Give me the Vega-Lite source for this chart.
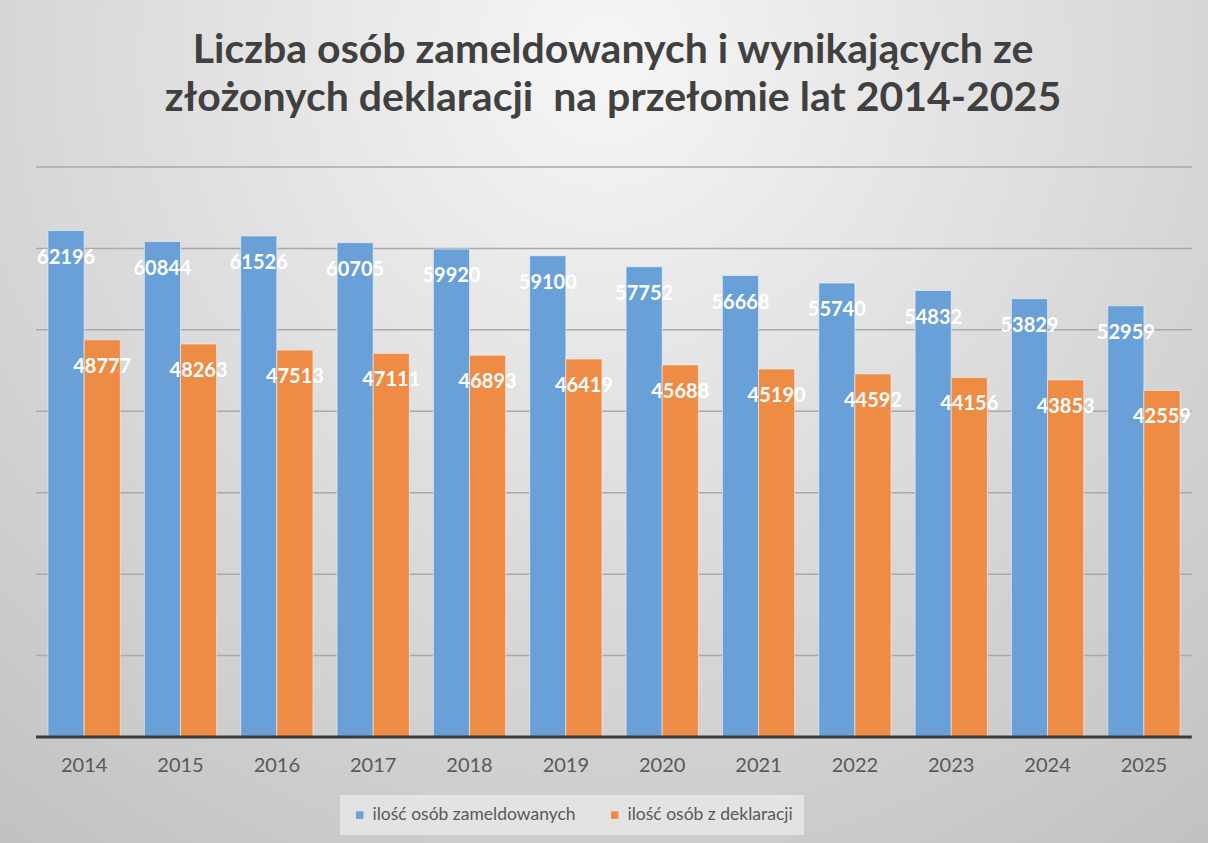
{
  "$schema": "https://vega.github.io/schema/vega-lite/v6.json",
  "width": 1208,
  "height": 843,
  "autosize": {"type": "none"},
  "padding": 0,
  "background": "#d6d6d6",
  "view": {
    "stroke": null,
    "fill": {
      "gradient": "radial",
      "x1": 0.5, "y1": 0.2, "r1": 0,
      "x2": 0.5, "y2": 0.2, "r2": 0.9,
      "stops": [
        {"offset": 0, "color": "#f6f6f6"},
        {"offset": 1, "color": "#bcbcbc"}
      ]
    }
  },
  "title": {
    "text": ["Liczba osób zameldowanych i wynikających ze", "złożonych deklaracji \u00a0na przełomie lat 2014-2025"],
    "fontSize": 41,
    "font": "Lato",
    "fontWeight": "bold",
    "color": "#404040",
    "anchor": "middle",
    "orient": "top",
    "offset": -120,
    "dx": 9,
    "lineHeight": 48
  },
  "datasets": {
    "slupki": [
      {"rok": "2014", "seria": "ilość osób zameldowanych", "wartosc": 62196},
      {"rok": "2015", "seria": "ilość osób zameldowanych", "wartosc": 60844},
      {"rok": "2016", "seria": "ilość osób zameldowanych", "wartosc": 61526},
      {"rok": "2017", "seria": "ilość osób zameldowanych", "wartosc": 60705},
      {"rok": "2018", "seria": "ilość osób zameldowanych", "wartosc": 59920},
      {"rok": "2019", "seria": "ilość osób zameldowanych", "wartosc": 59100},
      {"rok": "2020", "seria": "ilość osób zameldowanych", "wartosc": 57752},
      {"rok": "2021", "seria": "ilość osób zameldowanych", "wartosc": 56668},
      {"rok": "2022", "seria": "ilość osób zameldowanych", "wartosc": 55740},
      {"rok": "2023", "seria": "ilość osób zameldowanych", "wartosc": 54832},
      {"rok": "2024", "seria": "ilość osób zameldowanych", "wartosc": 53829},
      {"rok": "2025", "seria": "ilość osób zameldowanych", "wartosc": 52959},
      {"rok": "2014", "seria": "ilość osób z deklaracji", "wartosc": 48777},
      {"rok": "2015", "seria": "ilość osób z deklaracji", "wartosc": 48263},
      {"rok": "2016", "seria": "ilość osób z deklaracji", "wartosc": 47513},
      {"rok": "2017", "seria": "ilość osób z deklaracji", "wartosc": 47111},
      {"rok": "2018", "seria": "ilość osób z deklaracji", "wartosc": 46893},
      {"rok": "2019", "seria": "ilość osób z deklaracji", "wartosc": 46419},
      {"rok": "2020", "seria": "ilość osób z deklaracji", "wartosc": 45688},
      {"rok": "2021", "seria": "ilość osób z deklaracji", "wartosc": 45190},
      {"rok": "2022", "seria": "ilość osób z deklaracji", "wartosc": 44592},
      {"rok": "2023", "seria": "ilość osób z deklaracji", "wartosc": 44156},
      {"rok": "2024", "seria": "ilość osób z deklaracji", "wartosc": 43853},
      {"rok": "2025", "seria": "ilość osób z deklaracji", "wartosc": 42559}
    ],
    "siatka": [
      {"g": 10000}, {"g": 20000}, {"g": 30000}, {"g": 40000},
      {"g": 50000}, {"g": 60000}, {"g": 70000}
    ],
    "zero": [{"g": 0}]
  },
  "layer": [
    {
      "data": {"name": "siatka"},
      "mark": {"type": "rule", "color": "#a9a9a9", "strokeWidth": 1.5},
      "encoding": {
        "x": {"datum": "2014", "type": "nominal", "bandPosition": -0.166},
        "x2": {"datum": "2025", "bandPosition": 1.1625},
        "y": {"field": "g", "type": "quantitative", "scale": {"domain": [-13018, 90509], "nice": false, "zero": false}, "axis": null}
      }
    },
    {
      "data": {"name": "slupki"},
      "mark": {"type": "bar", "stroke": "#f4f4f4", "strokeWidth": 1, "strokeOpacity": 0.6},
      "encoding": {
        "x": {
          "field": "rok",
          "type": "nominal",
          "scale": {"paddingInner": 0.25, "paddingOuter": 0.3944, "align": 0.632},
          "axis": {
            "title": null,
            "orient": "bottom",
            "offset": -106,
            "bandPosition": 0.5,
            "labelAngle": 0,
            "labelAlign": "center",
            "labelFont": "Lato",
            "labelFontSize": 20,
            "labelColor": "#595959",
            "labelPadding": 28,
            "ticks": false,
            "grid": false,
            "domain": false
          }
        },
        "xOffset": {"field": "seria", "type": "nominal", "sort": ["ilość osób zameldowanych", "ilość osób z deklaracji"]},
        "y": {"field": "wartosc", "type": "quantitative", "scale": {"domain": [-13018, 90509], "nice": false, "zero": false}, "axis": null},
        "color": {
          "field": "seria",
          "type": "nominal",
          "sort": ["ilość osób zameldowanych", "ilość osób z deklaracji"],
          "scale": {"domain": ["ilość osób zameldowanych", "ilość osób z deklaracji"], "range": ["#69a0d8", "#ee8b45"]},
          "legend": {
            "title": null,
            "orient": "none",
            "legendX": 340,
            "legendY": 795,
            "direction": "horizontal",
            "fillColor": "#e3e3e3",
            "padding": 11,
            "labelFont": "Lato",
            "labelFontSize": 17.5,
            "labelColor": "#595959",
            "symbolType": "square",
            "symbolSize": 56,
            "symbolStrokeWidth": 0,
            "columnPadding": 30,
            "labelLimit": 400
          }
        }
      }
    },
    {
      "data": {"name": "zero"},
      "mark": {"type": "rule", "color": "#3a3a3a", "strokeWidth": 3},
      "encoding": {
        "x": {"datum": "2014", "type": "nominal", "bandPosition": -0.166},
        "x2": {"datum": "2025", "bandPosition": 1.1625},
        "y": {"field": "g", "type": "quantitative", "scale": {"domain": [-13018, 90509], "nice": false, "zero": false}, "axis": null}
      }
    },
    {
      "data": {"name": "slupki"},
      "mark": {"type": "text", "color": "white", "fontWeight": "bold", "font": "Lato", "fontSize": 20, "dy": 27, "baseline": "middle"},
      "encoding": {
        "x": {"field": "rok", "type": "nominal"},
        "xOffset": {"field": "seria", "type": "nominal", "sort": ["ilość osób zameldowanych", "ilość osób z deklaracji"]},
        "y": {"field": "wartosc", "type": "quantitative", "scale": {"domain": [-13018, 90509], "nice": false, "zero": false}, "axis": null},
        "text": {"field": "wartosc", "type": "quantitative", "format": "d"}
      }
    }
  ]
}
